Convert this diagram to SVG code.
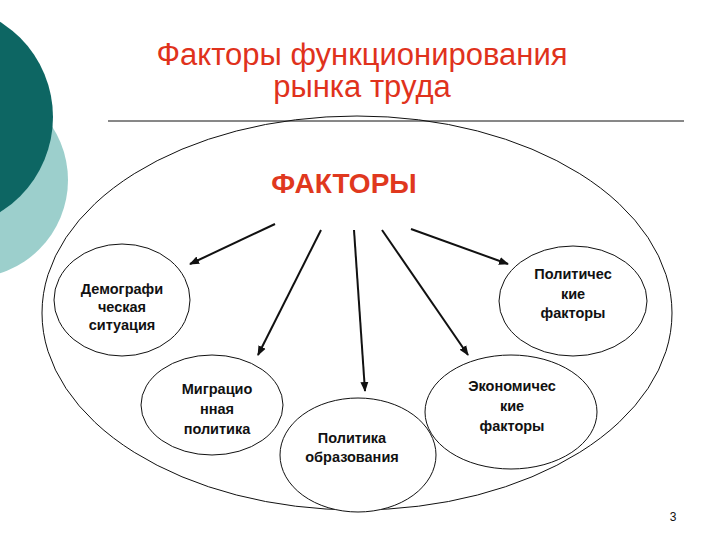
<svg xmlns="http://www.w3.org/2000/svg" width="720" height="540" viewBox="0 0 720 540">
<style>
.title{font-family:"Liberation Sans",Arial,sans-serif;font-size:31px;fill:#e0321c;text-anchor:middle}
.lbl{font-family:"Liberation Sans",Arial,sans-serif;font-size:14.5px;font-weight:bold;fill:#111;text-anchor:middle}
.node{fill:#fff;stroke:#111;stroke-width:1}
.arr{stroke:#111;stroke-width:2;fill:none;marker-end:url(#ah)}
</style>
<defs>
<marker id="ah" viewBox="0 0 10 10" refX="9" refY="5" markerWidth="5" markerHeight="5" orient="auto" markerUnits="strokeWidth">
<path d="M0,1 L10,5 L0,9 z" fill="#111"/>
</marker>
</defs>
<rect width="720" height="540" fill="#fff"/>
<g id="decor">
<circle cx="-30" cy="180" r="98" fill="#9ccfcc"/>
<circle cx="-59" cy="117" r="112" fill="#0d6663"/>
</g>
<g id="title">
<text class="title" x="362" y="65">Факторы функционирования</text>
<text class="title" x="362" y="97">рынка труда</text>
</g>
<line x1="108" y1="121" x2="684" y2="121" stroke="#111" stroke-width="1"/>
<g id="frame">
<ellipse cx="357" cy="313" rx="315" ry="197" fill="none" stroke="#111" stroke-width="1"/>
</g>
<g id="factors">
<text x="344" y="193" font-family="'Liberation Sans',Arial,sans-serif" font-size="28" font-weight="bold" fill="#e0381e" text-anchor="middle">ФАКТОРЫ</text>
</g>
<g id="connectors">
<line class="arr" x1="275" y1="224" x2="190" y2="264"/>
<line class="arr" x1="321" y1="230" x2="258" y2="355"/>
<line class="arr" x1="354" y1="230" x2="365" y2="391"/>
<line class="arr" x1="382" y1="230" x2="468" y2="355"/>
<line class="arr" x1="411" y1="229" x2="508" y2="264"/>
</g>
<g id="node-demo">
<ellipse class="node" cx="122" cy="300" rx="68" ry="56"/>
<text class="lbl" x="122" y="294">Демографи</text>
<text class="lbl" x="122" y="312">ческая</text>
<text class="lbl" x="122" y="330">ситуация</text>
</g>
<g id="node-migr">
<ellipse class="node" cx="212" cy="405" rx="71" ry="50"/>
<text class="lbl" x="217" y="394">Миграцио</text>
<text class="lbl" x="217" y="414">нная</text>
<text class="lbl" x="217" y="434">политика</text>
</g>
<g id="node-edu">
<ellipse class="node" cx="358" cy="455" rx="78" ry="57"/>
<text class="lbl" x="352" y="443">Политика</text>
<text class="lbl" x="352" y="462">образования</text>
</g>
<g id="node-pol">
<ellipse class="node" cx="573" cy="301" rx="74" ry="55"/>
<text class="lbl" x="573" y="279">Политичес</text>
<text class="lbl" x="573" y="299">кие</text>
<text class="lbl" x="573" y="318">факторы</text>
</g>
<g id="node-econ">
<ellipse class="node" cx="511" cy="412" rx="86" ry="57"/>
<text class="lbl" x="512" y="391">Экономичес</text>
<text class="lbl" x="512" y="411">кие</text>
<text class="lbl" x="512" y="431">факторы</text>
</g>
<text x="673" y="521" font-family="'Liberation Sans',Arial,sans-serif" font-size="12" fill="#111" text-anchor="middle">3</text>
</svg>
